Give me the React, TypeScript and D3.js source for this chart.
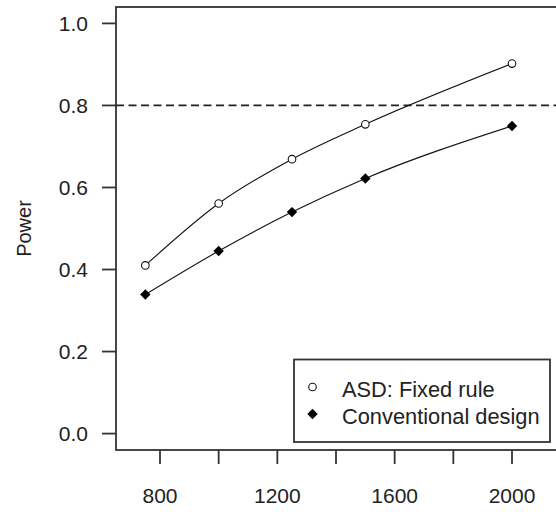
import React, { useEffect, useRef } from 'react'
import * as d3 from 'd3'

const sampleSizes = [750, 1000, 1250, 1500, 2000]
const asdPower = [0.41, 0.561, 0.669, 0.754, 0.902]
const conventionalPower = [0.339, 0.445, 0.54, 0.622, 0.75]
const xTicks = [800, 1000, 1200, 1400, 1600, 1800, 2000]
const xTickLabels = [800, 1200, 1600, 2000]
const yTicks = [0, 0.2, 0.4, 0.6, 0.8, 1.0]
const legendLabels = ['ASD: Fixed rule', 'Conventional design']
const targetPower = 0.8

const App = () => {
    const d3Container = useRef(null)
    const dims = {
        width: 556,
        height: 512,
        left: 116,
        right: 556,
        top: 7,
        bottom: 450,
    }
    const font = '"Liberation Sans", Arial, sans-serif'
    const ink = '#222'

    useEffect(
        () => {
            if (!d3Container.current) return
            const svg = d3.select(d3Container.current)
            svg.selectAll('*').remove()

            const x = d3.scaleLinear().domain([650, 2150]).range([dims.left, dims.right])
            const y = d3.scaleLinear().domain([-0.04, 1.04]).range([dims.bottom, dims.top])

            svg.append('rect')
                .attr('width', dims.width)
                .attr('height', dims.height)
                .attr('fill', '#fff')

            // plot box (right side runs off the picture)
            svg.append('rect')
                .attr('x', dims.left)
                .attr('y', dims.top)
                .attr('width', dims.right - dims.left + 10)
                .attr('height', dims.bottom - dims.top)
                .attr('fill', 'none')
                .attr('stroke', '#333')
                .attr('stroke-width', 1.8)

            // y axis
            svg.selectAll('.ytick')
                .data(yTicks)
                .join('line')
                .attr('x1', dims.left - 14)
                .attr('x2', dims.left)
                .attr('y1', d => y(d))
                .attr('y2', d => y(d))
                .attr('stroke', '#333')
                .attr('stroke-width', 1.8)

            svg.selectAll('.ylab')
                .data(yTicks)
                .join('text')
                .text(d => d3.format('.1f')(d))
                .attr('x', 88)
                .attr('y', d => y(d))
                .attr('dy', '0.36em')
                .attr('text-anchor', 'end')
                .style('font-family', font)
                .style('font-size', '21px')
                .attr('fill', ink)

            svg.append('text')
                .text('Power')
                .attr('transform', `translate(31,${(dims.top + dims.bottom) / 2}) rotate(-90)`)
                .attr('text-anchor', 'middle')
                .style('font-family', font)
                .style('font-size', '20px')
                .attr('fill', ink)

            // x axis
            svg.selectAll('.xtick')
                .data(xTicks)
                .join('line')
                .attr('x1', d => x(d))
                .attr('x2', d => x(d))
                .attr('y1', dims.bottom)
                .attr('y2', dims.bottom + 14)
                .attr('stroke', '#333')
                .attr('stroke-width', 1.8)

            svg.selectAll('.xlab')
                .data(xTickLabels)
                .join('text')
                .text(d => d)
                .attr('x', d => x(d))
                .attr('y', 503)
                .attr('text-anchor', 'middle')
                .style('font-family', font)
                .style('font-size', '21px')
                .attr('fill', ink)

            // 0.8 reference line
            svg.append('line')
                .attr('x1', dims.left)
                .attr('x2', dims.width)
                .attr('y1', y(targetPower))
                .attr('y2', y(targetPower))
                .attr('stroke', '#222')
                .attr('stroke-width', 1.8)
                .attr('stroke-dasharray', '8,4.5')

            const line = d3.line()
                .x(d => x(d[0]))
                .y(d => y(d[1]))
                .curve(d3.curveMonotoneX)

            const asd = sampleSizes.map((s, i) => [s, asdPower[i]])
            const conv = sampleSizes.map((s, i) => [s, conventionalPower[i]])

            svg.append('path')
                .attr('d', line(asd))
                .attr('fill', 'none')
                .attr('stroke', '#111')
                .attr('stroke-width', 1.1)
            svg.append('path')
                .attr('d', line(conv))
                .attr('fill', 'none')
                .attr('stroke', '#111')
                .attr('stroke-width', 1.1)

            const diamond = (cx, cy, r) => `M${cx},${cy - r}L${cx + r},${cy}L${cx},${cy + r}L${cx - r},${cy}Z`

            svg.selectAll('.asdpt')
                .data(asd)
                .join('circle')
                .attr('cx', d => x(d[0]))
                .attr('cy', d => y(d[1]))
                .attr('r', 3.8)
                .attr('fill', '#fff')
                .attr('stroke', '#111')
                .attr('stroke-width', 1.1)

            svg.selectAll('.convpt')
                .data(conv)
                .join('path')
                .attr('d', d => diamond(x(d[0]), y(d[1]), 5.2))
                .attr('fill', '#000')

            // legend
            const lg = svg.append('g')
            lg.append('rect')
                .attr('x', 294)
                .attr('y', 359.5)
                .attr('width', 256)
                .attr('height', 82.5)
                .attr('fill', '#fff')
                .attr('stroke', '#333')
                .attr('stroke-width', 1.8)

            legendLabels.forEach((label, i) => {
                const cy = 389 + i * 27
                if (i === 0) {
                    lg.append('circle')
                        .attr('cx', 312.5)
                        .attr('cy', cy - 2)
                        .attr('r', 3.8)
                        .attr('fill', '#fff')
                        .attr('stroke', '#111')
                        .attr('stroke-width', 1.1)
                } else {
                    lg.append('path')
                        .attr('d', diamond(312.5, cy - 2, 5.2))
                        .attr('fill', '#000')
                }
                lg.append('text')
                    .text(label)
                    .attr('x', 342)
                    .attr('y', cy)
                    .attr('dy', '0.36em')
                    .style('font-family', font)
                    .style('font-size', '21.8px')
                    .attr('fill', ink)
            })
        },
        [d3Container.current])

    return (
        <svg
            ref={d3Container}
            width={556}
            height={512}
            style={{ position: 'absolute', left: 0, top: 0, display: 'block' }}
        />
    )
}

export default App
